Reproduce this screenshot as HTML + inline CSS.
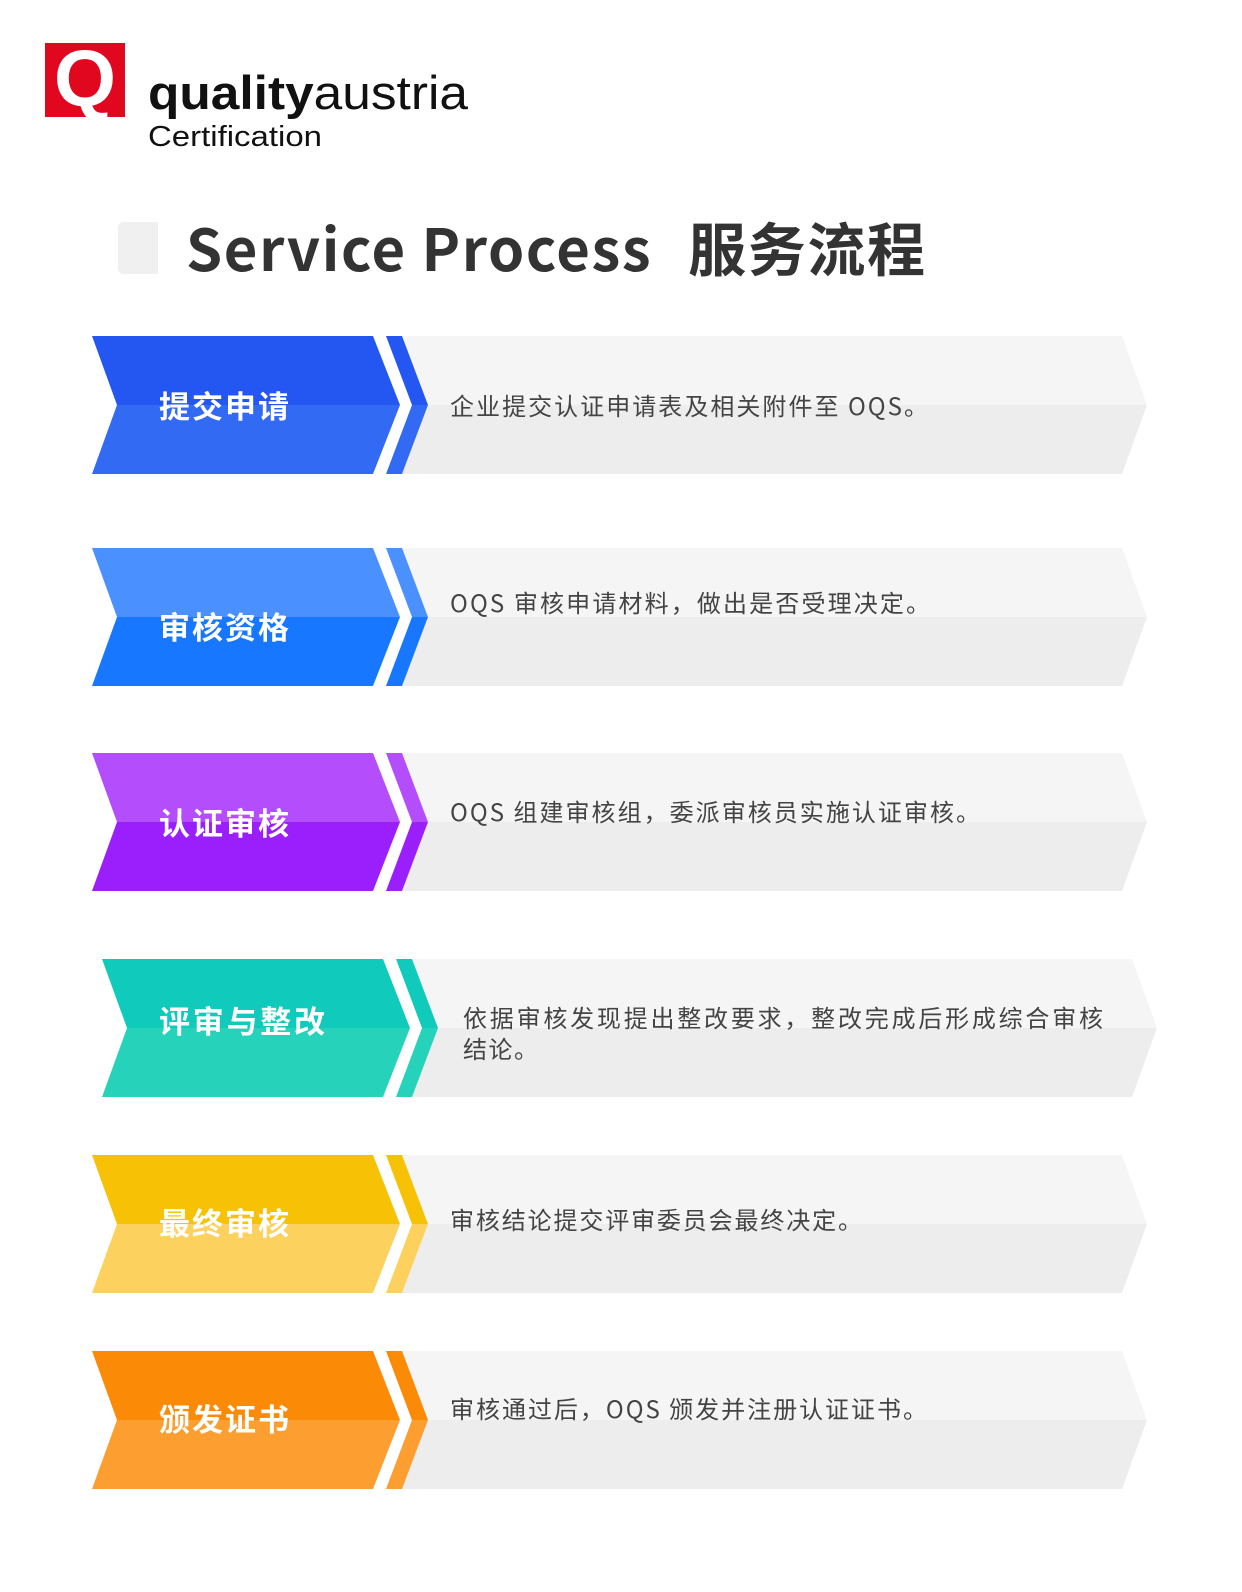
<!DOCTYPE html>
<html><head><meta charset="utf-8"><style>
html,body{margin:0;padding:0;background:#fff;}
svg{display:block;}
.lab{font-family:"Noto Sans CJK SC",sans-serif;font-weight:700;font-size:31px;fill:#fff;}
.d{font-family:"Noto Sans CJK SC",sans-serif;font-size:24px;fill:#444;}
</style></head><body>
<svg width="1242" height="1592" viewBox="0 0 1242 1592" xmlns="http://www.w3.org/2000/svg">
<defs>
<linearGradient id="g0" x1="0" y1="0" x2="0" y2="1"><stop offset="0.5" stop-color="#f5f5f5"/><stop offset="0.5" stop-color="#ededed"/></linearGradient>
<linearGradient id="g1" x1="0" y1="0" x2="0" y2="1"><stop offset="0.5" stop-color="#2456f2"/><stop offset="0.5" stop-color="#336af3"/></linearGradient>
<linearGradient id="g2" x1="0" y1="0" x2="0" y2="1"><stop offset="0.5" stop-color="#4a90ff"/><stop offset="0.5" stop-color="#1877ff"/></linearGradient>
<linearGradient id="g3" x1="0" y1="0" x2="0" y2="1"><stop offset="0.5" stop-color="#b44dfc"/><stop offset="0.5" stop-color="#9b1ffc"/></linearGradient>
<linearGradient id="g4" x1="0" y1="0" x2="0" y2="1"><stop offset="0.5" stop-color="#10cbbb"/><stop offset="0.5" stop-color="#26d3ba"/></linearGradient>
<linearGradient id="g5" x1="0" y1="0" x2="0" y2="1"><stop offset="0.5" stop-color="#f7c205"/><stop offset="0.5" stop-color="#fcd15e"/></linearGradient>
<linearGradient id="g6" x1="0" y1="0" x2="0" y2="1"><stop offset="0.5" stop-color="#fb8a06"/><stop offset="0.5" stop-color="#fc9e30"/></linearGradient>
<g id="row">
<polygon points="310,0 1030,0 1055,69 1030,138 310,138 336,69" fill="url(#g0)"/>
</g>
</defs>

<!-- logo -->
<rect x="45" y="43" width="80" height="74" fill="#e0071f"/>
<text x="85" y="106" text-anchor="middle" font-family="Liberation Sans,sans-serif" font-weight="700" font-size="80" fill="#fff">Q</text>
<text x="148" y="109" font-family="Liberation Sans,sans-serif" font-weight="700" font-size="47" fill="#111" textLength="320" lengthAdjust="spacingAndGlyphs">quality<tspan font-weight="400">austria</tspan></text>
<text x="148" y="146" font-family="Liberation Sans,sans-serif" font-size="29" fill="#111" textLength="174" lengthAdjust="spacingAndGlyphs">Certification</text>

<!-- title -->
<rect x="118" y="222" width="40" height="52" rx="6" fill="#f0f0f0"/>
<rect x="140" y="222" width="18" height="52" fill="#f0f0f0"/>
<text x="186" y="271" font-family="'Noto Sans CJK SC',sans-serif" font-weight="700" font-size="58" fill="#333" textLength="739" lengthAdjust="spacing">Service Process<tspan dx="36">服务流程</tspan></text>

<!-- rows -->
<g transform="translate(92,336)">
<use href="#row"/>
<polygon points="0,0 281,0 308,69 281,138 0,138 25,69" fill="url(#g1)"/>
<polygon points="294,0 310,0 336,69 310,138 294,138 320,69" fill="url(#g1)"/>
<text class="lab" x="67" y="82" textLength="130" lengthAdjust="spacing">提交申请</text>
<text class="d" x="358" y="79" textLength="478" lengthAdjust="spacing">企业提交认证申请表及相关附件至 OQS。</text>
</g>
<g transform="translate(92,548)">
<use href="#row"/>
<polygon points="0,0 281,0 308,69 281,138 0,138 25,69" fill="url(#g2)"/>
<polygon points="294,0 310,0 336,69 310,138 294,138 320,69" fill="url(#g2)"/>
<text class="lab" x="67" y="91" textLength="130" lengthAdjust="spacing">审核资格</text>
<text class="d" x="358" y="64" textLength="480" lengthAdjust="spacing">OQS 审核申请材料，做出是否受理决定。</text>
</g>
<g transform="translate(92,753)">
<use href="#row"/>
<polygon points="0,0 281,0 308,69 281,138 0,138 25,69" fill="url(#g3)"/>
<polygon points="294,0 310,0 336,69 310,138 294,138 320,69" fill="url(#g3)"/>
<text class="lab" x="67" y="82" textLength="130" lengthAdjust="spacing">认证审核</text>
<text class="d" x="358" y="68" textLength="530" lengthAdjust="spacing">OQS 组建审核组，委派审核员实施认证审核。</text>
</g>
<g transform="translate(102,959)">
<use href="#row"/>
<polygon points="0,0 281,0 308,69 281,138 0,138 25,69" fill="url(#g4)"/>
<polygon points="294,0 310,0 336,69 310,138 294,138 320,69" fill="url(#g4)"/>
<text class="lab" x="57" y="74" textLength="166" lengthAdjust="spacing">评审与整改</text>
<text class="d" x="361" y="68" textLength="640" lengthAdjust="spacing">依据审核发现提出整改要求，整改完成后形成综合审核</text>
<text class="d" x="361" y="99" textLength="75" lengthAdjust="spacing">结论。</text>
</g>
<g transform="translate(92,1155)">
<use href="#row"/>
<polygon points="0,0 281,0 308,69 281,138 0,138 25,69" fill="url(#g5)"/>
<polygon points="294,0 310,0 336,69 310,138 294,138 320,69" fill="url(#g5)"/>
<text class="lab" x="67" y="80" textLength="130" lengthAdjust="spacing">最终审核</text>
<text class="d" x="358" y="74" textLength="412" lengthAdjust="spacing">审核结论提交评审委员会最终决定。</text>
</g>
<g transform="translate(92,1351)">
<use href="#row"/>
<polygon points="0,0 281,0 308,69 281,138 0,138 25,69" fill="url(#g6)"/>
<polygon points="294,0 310,0 336,69 310,138 294,138 320,69" fill="url(#g6)"/>
<text class="lab" x="67" y="80" textLength="130" lengthAdjust="spacing">颁发证书</text>
<text class="d" x="358" y="67" textLength="477" lengthAdjust="spacing">审核通过后，OQS 颁发并注册认证证书。</text>
</g>
</svg>
</body></html>
